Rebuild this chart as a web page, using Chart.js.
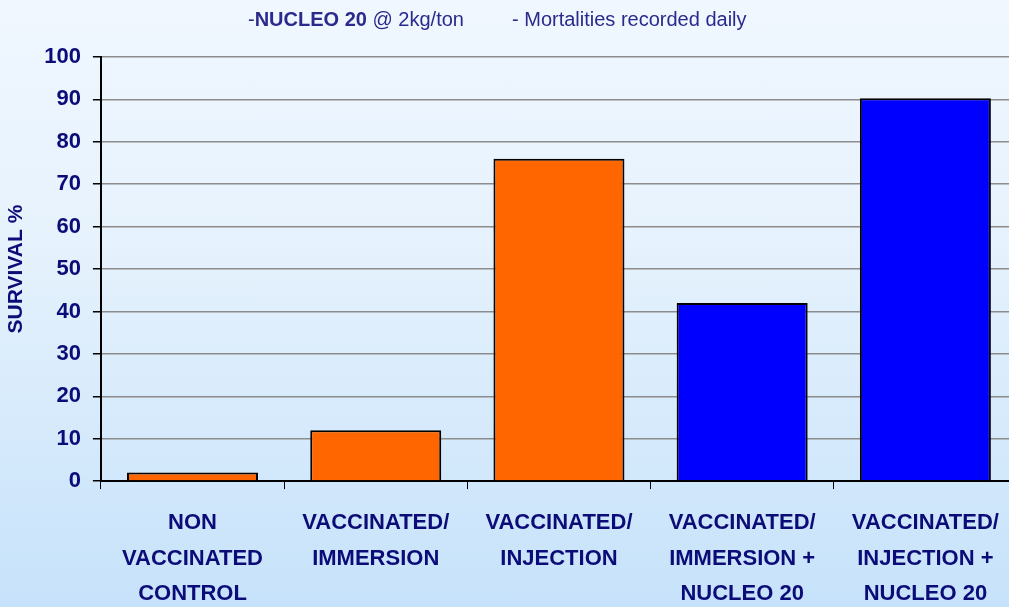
<!DOCTYPE html>
<html>
<head>
<meta charset="utf-8">
<script src="https://cdn.jsdelivr.net/npm/chart.js@4"></script>
<style>
  html, body { margin: 0; padding: 0; overflow: hidden; }
  #wrap {
    position: relative; width: 1009px; height: 607px; overflow: hidden;
    background: linear-gradient(to bottom, #f0f7ff 0%, #e6f2fd 40%, #c6e2fa 100%);
  }
  #box { position: absolute; left: 0; top: 0; width: 1017px; height: 628px; }
  .title {
    position: absolute; top: 8px;
    font-family: 'Liberation Sans Narrow', 'Arial Narrow', 'Liberation Sans', sans-serif;
    font-size: 20px; color: #2a2a8c; white-space: pre;
  }
</style>
</head>
<body>
<div id="wrap">
  <div id="box"><canvas id="survivalChart"></canvas></div>
  <div class="title" style="left:248px">-<b>NUCLEO 20</b> @ 2kg/ton</div>
  <div class="title" style="left:512px">- Mortalities recorded daily</div>
</div>
<script>
const categories = [
    ['NON', 'VACCINATED', 'CONTROL'],
    ['VACCINATED/', 'IMMERSION'],
    ['VACCINATED/', 'INJECTION'],
    ['VACCINATED/', 'IMMERSION +', 'NUCLEO 20'],
    ['VACCINATED/', 'INJECTION +', 'NUCLEO 20']
];
const survival = [2, 12, 76, 42, 90.3];
const barColors = ['#ff6600', '#ff6600', '#ff6600', '#0000ff', '#0000ff'];
const yTicks = [0, 10, 20, 30, 40, 50, 60, 70, 80, 90, 100];

const fontFamily = "'Liberation Sans Narrow', 'Arial Narrow', 'Liberation Sans', sans-serif";
const navy = '#0c0c78';

const ctx = document.getElementById('survivalChart').getContext('2d');
new Chart(ctx, {
    type: 'bar',
    data: {
        labels: categories,
        datasets: [{
            label: 'Survival %',
            data: survival,
            backgroundColor: barColors,
            borderColor: '#000000',
            borderWidth: 2,
            barPercentage: 0.715,
            categoryPercentage: 1.0
        }]
    },
    options: {
        responsive: true,
        maintainAspectRatio: false,
        animation: false,
        layout: { padding: { top: 57, left: 4, right: 0, bottom: 0 } },
        plugins: {
            legend: { display: false },
            tooltip: { enabled: false }
        },
        scales: {
            x: {
                offset: true,
                grid: {
                    offset: true,
                    drawOnChartArea: false,
                    color: '#000000',
                    tickLength: 8,
                    lineWidth: 1
                },
                border: { color: '#000000', width: 2 },
                ticks: {
                    color: navy,
                    font: { family: fontFamily, size: 22, weight: 'bold', lineHeight: 1.62 },
                    padding: 16,
                    maxRotation: 0,
                    autoSkip: false
                }
            },
            y: {
                min: 0,
                max: 100,
                afterBuildTicks: function(axis) {
                    axis.ticks = yTicks.map(function(v) { return { value: v }; });
                },
                grid: {
                    color: '#8c8c8c',
                    lineWidth: 1.5,
                    tickLength: 8,
                    tickColor: '#000000'
                },
                border: { color: '#000000', width: 2 },
                ticks: {
                    color: navy,
                    font: { family: fontFamily, size: 22, weight: 'bold' },
                    padding: 12
                },
                title: {
                    display: true,
                    text: 'SURVIVAL %',
                    color: navy,
                    font: { family: fontFamily, size: 21, weight: 'bold' },
                    padding: { top: 0, bottom: 3 }
                }
            }
        }
    }
});
</script>
</body>
</html>
